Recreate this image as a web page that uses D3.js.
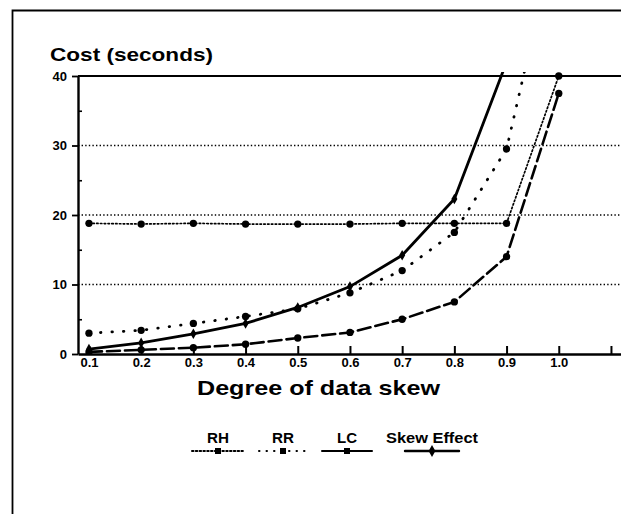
<!DOCTYPE html>
<html>
<head>
<meta charset="utf-8">
<script src="https://cdn.jsdelivr.net/npm/d3@7"></script>
<style>
  body { margin: 0; background: #fff; }
  text { font-family: "Liberation Sans", Arial, sans-serif; font-weight: 700; fill: #000; }
</style>
</head>
<body>
<div id="chart"></div>
<script>
// data
var skew = [0.1, 0.2, 0.3, 0.4, 0.5, 0.6, 0.7, 0.8, 0.9, 1.0];
var rh = [18.8, 18.7, 18.8, 18.7, 18.7, 18.7, 18.8, 18.8, 18.8, 40];
var rr = [3.0, 3.4, 4.4, 5.4, 6.5, 8.8, 12.0, 17.5, 29.5, 62];
var lc = [0.3, 0.6, 0.9, 1.4, 2.3, 3.1, 5.0, 7.5, 14.0, 37.5];
var skewEffect = [0.7, 1.6, 2.9, 4.4, 6.7, 9.7, 14.2, 22.3, 42, 80];
var seriesNames = ["RH", "RR", "LC", "Skew Effect"];
var xTicks = [0.1, 0.2, 0.3, 0.4, 0.5, 0.6, 0.7, 0.8, 0.9, 1.0, 1.1];
var yTicks = [0, 10, 20, 30, 40];
var yMinor = [5, 15, 25, 35];

function drawChart(contId) {
    var w = 621;
    var h = 514;
    var left = 78, top = 76, bottom = 354; // plot box edges

    var svg = d3.select(contId)
        .append("svg")
        .attr("width", w)
        .attr("height", h);

    // page frame
    svg.append("path")
        .attr("d", "M12.5," + h + "V10.5H" + w)
        .attr("fill", "none")
        .attr("stroke", "#000")
        .attr("stroke-width", 1.8);

    var x = d3.scaleLinear().domain([0.079, 1.2]).range([left, left + 1.121 * 522]);
    var y = d3.scaleLinear().domain([0, 40]).range([bottom, top]);

    // dotted grid lines
    svg.append("g")
        .selectAll("line")
        .data([10, 20, 30])
        .enter()
        .append("line")
        .attr("x1", left)
        .attr("x2", w)
        .attr("y1", d => y(d))
        .attr("y2", d => y(d))
        .attr("stroke", "#000")
        .attr("stroke-width", 1.5)
        .attr("stroke-dasharray", "1.4,2.2");

    // top solid line at 40
    svg.append("line")
        .attr("x1", left).attr("x2", w)
        .attr("y1", y(40)).attr("y2", y(40))
        .attr("stroke", "#000").attr("stroke-width", 2.2);

    // axes
    var xAxis = svg.append("g")
        .attr("transform", "translate(0," + bottom + ")")
        .call(d3.axisBottom(x).tickValues(xTicks).tickSizeInner(-8).tickSizeOuter(0).tickPadding(4)
            .tickFormat(d => d > 1.05 ? "" : d3.format(".1f")(d)));
    xAxis.select(".domain").attr("stroke-width", 2.4);
    xAxis.selectAll(".tick line").attr("stroke-width", 2);
    xAxis.selectAll("text").style("font-size", "13px").style("font-family", "Liberation Sans, Arial, sans-serif").style("font-weight", 700);

    var yAxis = svg.append("g")
        .attr("transform", "translate(" + left + ",0)")
        .call(d3.axisLeft(y).tickValues(yTicks).tickSizeInner(6).tickSizeOuter(0).tickPadding(5));
    yAxis.select(".domain").attr("stroke-width", 2.4);
    yAxis.selectAll(".tick line").attr("stroke-width", 1.8);
    yAxis.selectAll("text").style("font-size", "13px").style("font-family", "Liberation Sans, Arial, sans-serif").style("font-weight", 700);

    svg.append("g")
        .attr("transform", "translate(" + left + ",0)")
        .call(d3.axisRight(y).tickValues(yMinor).tickSize(4).tickFormat(""))
        .call(g => g.select(".domain").remove())
        .selectAll(".tick line").attr("stroke-width", 1.6);

    // clip the curves to the plot box
    svg.append("clipPath").attr("id", "plotClip")
        .append("rect")
        .attr("x", left).attr("y", top - 4)
        .attr("width", w - left).attr("height", bottom - top + 4);

    var series = [
        { name: seriesNames[0], values: rh, dash: "1.5,2.3", width: 1.7, marker: "circle" },
        { name: seriesNames[1], values: rr, dash: "0.5,11", width: 2.8, marker: "circle" },
        { name: seriesNames[2], values: lc, dash: "13,5", width: 2.6, marker: "circle" },
        { name: seriesNames[3], values: skewEffect, dash: null, width: 2.8, marker: "diamond" }
    ];

    var line = d3.line()
        .x(d => x(d.x))
        .y(d => y(d.y));

    var plot = svg.append("g").attr("clip-path", "url(#plotClip)");

    series.forEach(s => {
        var pts = skew.map((v, i) => ({ x: v, y: s.values[i] }));
        plot.append("path")
            .datum(pts)
            .attr("d", line)
            .attr("fill", "none")
            .attr("stroke", "#000")
            .attr("stroke-width", s.width)
            .attr("stroke-linecap", s.dash ? "round" : "butt")
            .attr("stroke-dasharray", s.dash);

        var sym = s.marker === "diamond" ? d3.symbolDiamond : d3.symbolCircle;
        plot.selectAll(null)
            .data(pts.filter(p => p.y <= 40))
            .enter()
            .append("path")
            .attr("transform", p => "translate(" + x(p.x) + "," + y(p.y) + ")")
            .attr("d", d3.symbol().type(sym).size(s.marker === "diamond" ? 32 : 42))
            .attr("fill", "#000");
    });

    // titles
    svg.append("text")
        .attr("x", 50)
        .attr("y", 61)
        .attr("textLength", 163)
        .attr("lengthAdjust", "spacingAndGlyphs")
        .style("font-size", "19px")
        .text("Cost (seconds)");

    svg.append("text")
        .attr("x", 197)
        .attr("y", 395)
        .attr("textLength", 243)
        .attr("lengthAdjust", "spacingAndGlyphs")
        .style("font-size", "21px")
        .text("Degree of data skew");

    // legend
    var legendX = [218, 283, 347, 432];
    var legendHalf = [26, 24, 25, 27];
    var legendTextW = [22, 22, 20, 92];
    var legend = svg.append("g");
    series.forEach((s, i) => {
        var cx = legendX[i];
        legend.append("text")
            .attr("x", cx - legendTextW[i] / 2)
            .attr("y", 443)
            .attr("textLength", legendTextW[i])
            .attr("lengthAdjust", "spacingAndGlyphs")
            .style("font-size", "14px")
            .text(s.name);
        legend.append("line")
            .attr("x1", cx - legendHalf[i]).attr("x2", cx + legendHalf[i])
            .attr("y1", 451).attr("y2", 451)
            .attr("stroke", "#000")
            .attr("stroke-width", s.dash ? 2 : 2.4)
            .attr("stroke-linecap", "round")
            .attr("stroke-dasharray", i === 2 ? null : (i === 1 ? "0.5,7" : s.dash));
        legend.append("path")
            .attr("transform", "translate(" + cx + ",451)")
            .attr("d", d3.symbol().type(s.marker === "diamond" ? d3.symbolDiamond : d3.symbolSquare).size(s.marker === "diamond" ? 40 : 36))
            .attr("fill", "#000");
    });
}

drawChart("#chart");
</script>
</body>
</html>
